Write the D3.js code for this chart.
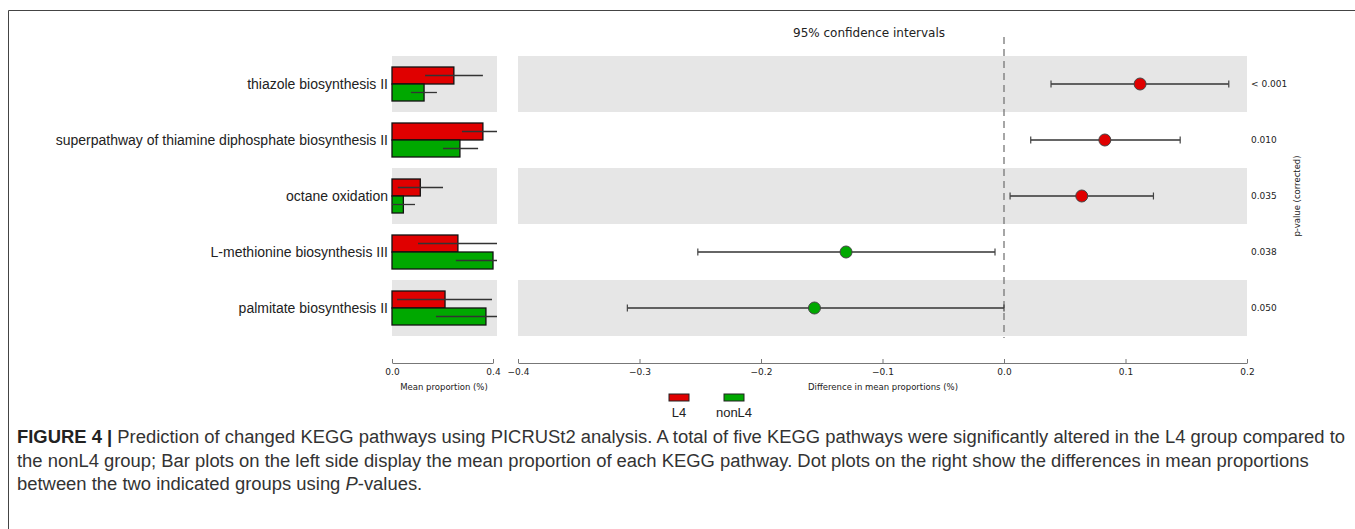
<!DOCTYPE html>
<html><head><meta charset="utf-8">
<script src="https://cdn.jsdelivr.net/npm/d3@7"></script>
<style>body{margin:0;background:#fff;} svg{display:block;}</style>
</head><body>
<script>
const categories = ["thiazole biosynthesis II","superpathway of thiamine diphosphate biosynthesis II","octane oxidation","L-methionine biosynthesis III","palmitate biosynthesis II"];
const l4Mean = [0.245, 0.360, 0.112, 0.261, 0.210];
const l4Lo = [0.131, 0.277, 0.023, 0.103, 0.020];
const l4Hi = [0.360, 0.440, 0.202, 0.450, 0.396];
const nonL4Mean = [0.127, 0.269, 0.045, 0.400, 0.372];
const nonL4Lo = [0.075, 0.202, 0.000, 0.253, 0.174];
const nonL4Hi = [0.178, 0.341, 0.091, 0.550, 0.570];
const diffMean = [0.112, 0.083, 0.064, -0.130, -0.156];
const diffLo = [0.0387, 0.022, 0.005, -0.252, -0.310];
const diffHi = [0.185, 0.145, 0.123, -0.0074, 0.000];
const pValues = ["< 0.001","0.010","0.035","0.038","0.050"];
const leftTicks = [0.0, 0.4];
const rightTicks = [-0.4,-0.3,-0.2,-0.1,0.0,0.1,0.2];
const groups = ["L4","nonL4"];
const colors = {L4:"#e00000", nonL4:"#00a800"};

const W=1355,H=529;
const svg=d3.select("body").append("svg").attr("width",W).attr("height",H);
const mono="DejaVu Sans, sans-serif";
const sans="Liberation Sans, Arial, sans-serif";

// frame
svg.append("line").attr("x1",8.5).attr("x2",W).attr("y1",10.5).attr("y2",10.5).attr("stroke","#444").attr("stroke-width",1);
svg.append("line").attr("x1",8.5).attr("x2",8.5).attr("y1",10.5).attr("y2",H).attr("stroke","#444").attr("stroke-width",1);

const y=d3.scaleBand().domain(categories).range([56,336]).padding(0);
const xl=d3.scaleLinear().domain([0,0.4]).range([392,493]);
const xr=d3.scaleLinear().domain([-0.4,0.2]).range([518,1247]);
const leftEnd=497;

// bands
categories.forEach((c,i)=>{
  if(i%2===0){
    svg.append("rect").attr("x",xl(0)).attr("y",y(c)).attr("width",leftEnd-xl(0)).attr("height",y.bandwidth()).attr("fill","#e6e6e6");
    svg.append("rect").attr("x",xr.range()[0]).attr("y",y(c)).attr("width",xr.range()[1]-xr.range()[0]).attr("height",y.bandwidth()).attr("fill","#e6e6e6");
  }
});

// category labels
svg.selectAll("text.cat").data(categories).join("text").attr("class","cat")
  .attr("x",388).attr("y",c=>y(c)+y.bandwidth()/2).attr("dy","0.35em")
  .attr("text-anchor","end").attr("font-family",sans).attr("font-size",14).attr("fill","#222").text(c=>c);

// clip for left bars
svg.append("clipPath").attr("id","lclip").append("rect").attr("x",xl(0)-2).attr("y",40).attr("width",leftEnd-xl(0)+2).attr("height",310);
const lg=svg.append("g").attr("clip-path","url(#lclip)");
const barH=17;
categories.forEach((c,i)=>{
  const cy=y(c)+y.bandwidth()/2;
  lg.append("rect").attr("x",xl(0)).attr("y",cy-barH).attr("width",xl(l4Mean[i])-xl(0)).attr("height",barH)
    .attr("fill",colors.L4).attr("stroke","#111").attr("stroke-width",1.3);
  lg.append("rect").attr("x",xl(0)).attr("y",cy).attr("width",xl(nonL4Mean[i])-xl(0)).attr("height",barH)
    .attr("fill",colors.nonL4).attr("stroke","#111").attr("stroke-width",1.3);
  lg.append("line").attr("x1",xl(l4Lo[i])).attr("x2",xl(l4Hi[i])).attr("y1",cy-barH/2).attr("y2",cy-barH/2).attr("stroke","#333").attr("stroke-width",1.3);
  lg.append("line").attr("x1",xl(nonL4Lo[i])).attr("x2",xl(nonL4Hi[i])).attr("y1",cy+barH/2).attr("y2",cy+barH/2).attr("stroke","#333").attr("stroke-width",1.3);
});

// dashed zero line
svg.append("line").attr("x1",xr(0)).attr("x2",xr(0)).attr("y1",37).attr("y2",338)
  .attr("stroke","#777").attr("stroke-width",1.3).attr("stroke-dasharray","7,5");

// CI
categories.forEach((c,i)=>{
  const cy=y(c)+y.bandwidth()/2;
  const g=svg.append("g");
  g.append("line").attr("x1",xr(diffLo[i])).attr("x2",xr(diffHi[i])).attr("y1",cy).attr("y2",cy).attr("stroke","#333").attr("stroke-width",1.3);
  [diffLo[i],diffHi[i]].forEach(v=>g.append("line").attr("x1",xr(v)).attr("x2",xr(v)).attr("y1",cy-3.5).attr("y2",cy+3.5).attr("stroke","#444").attr("stroke-width",1.2));
  g.append("circle").attr("cx",xr(diffMean[i])).attr("cy",cy).attr("r",6)
    .attr("fill",diffMean[i]>0?colors.L4:colors.nonL4).attr("stroke","#444").attr("stroke-width",1);
});

// p-values
svg.selectAll("text.pv").data(pValues).join("text").attr("class","pv")
  .attr("x",1251).attr("y",(d,i)=>y(categories[i])+y.bandwidth()/2).attr("dy","0.35em")
  .attr("font-family",mono).attr("font-size",9).attr("fill","#222").text(d=>d);
svg.append("text").attr("transform","translate(1300,196) rotate(-90)").attr("text-anchor","middle")
  .attr("font-family",mono).attr("font-size",8.5).attr("fill","#222").text("p-value (corrected)");

// title
svg.append("text").attr("x",869).attr("y",37).attr("text-anchor","middle").attr("font-family",mono).attr("font-size",12).attr("fill","#222").text("95% confidence intervals");

// axes
const fmt=d3.format(".1f");
const axL=svg.append("g").attr("transform","translate(0,363)")
  .call(d3.axisBottom(xl).tickValues(leftTicks).tickFormat(d=>fmt(d).replace("-","−")).tickSizeInner(-4).tickSizeOuter(0).tickPadding(6));
const axR=svg.append("g").attr("transform","translate(0,363)")
  .call(d3.axisBottom(xr).tickValues(rightTicks).tickFormat(d=>fmt(d).replace("-","−")).tickSizeInner(-4).tickSizeOuter(0).tickPadding(6));
[axL,axR].forEach(a=>{
  a.select(".domain").attr("stroke","#777");
  a.selectAll(".tick line").attr("stroke","#777");
  a.selectAll(".tick text").attr("font-family",mono).attr("font-size",9).attr("fill","#222");
});
svg.append("text").attr("x",444).attr("y",390).attr("text-anchor","middle").attr("font-family",mono).attr("font-size",8.5).attr("fill","#222").text("Mean proportion (%)");
svg.append("text").attr("x",883).attr("y",390).attr("text-anchor","middle").attr("font-family",mono).attr("font-size",8.5).attr("fill","#222").text("Difference in mean proportions (%)");

// legend
const legX={L4:669,nonL4:724};
groups.forEach(g=>{
  svg.append("rect").attr("x",legX[g]).attr("y",394).attr("width",20).attr("height",7).attr("fill",colors[g]).attr("stroke","#222").attr("stroke-width",1);
  svg.append("text").attr("x",legX[g]+10).attr("y",417).attr("text-anchor","middle").attr("font-family",sans).attr("font-size",13).attr("fill","#222").text(g);
});

// caption
const lines=[
  [["FIGURE 4 | ","bold"],["Prediction of changed KEGG pathways using PICRUSt2 analysis. A total of five KEGG pathways were significantly altered in the L4 group compared to","normal"]],
  [["the nonL4 group; Bar plots on the left side display the mean proportion of each KEGG pathway. Dot plots on the right show the differences in mean proportions","normal"]],
  [["between the two indicated groups using ","normal"],["P","italic"],["-values.","normal"]]
];
const capTexts=lines.map((ln,i)=>{
  const t=svg.append("text").attr("x",17).attr("y",443+i*23.5).attr("font-family",sans).attr("font-size",16).attr("fill","#333");
  ln.forEach(([s,st])=>{
    const ts=t.append("tspan").text(s);
    if(st==="bold") ts.attr("font-weight","bold").attr("fill","#222");
    if(st==="italic") ts.attr("font-style","italic");
  });
  return t;
});
const len=capTexts[0].node().getComputedTextLength();
const fs=16*1329/len;
capTexts.forEach(t=>t.attr("font-size",fs));
</script>
</body></html>
